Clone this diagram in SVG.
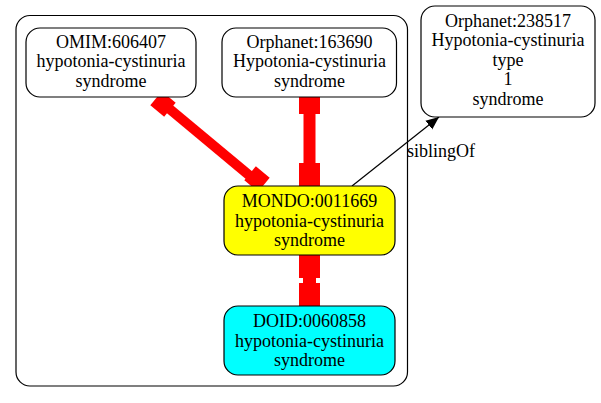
<svg xmlns="http://www.w3.org/2000/svg" width="601" height="403" viewBox="0 0 601 403">
<style>
text{font-size:18px;text-anchor:middle;fill:#000}
.n{stroke:#000;stroke-width:1.2}
.red{stroke:#ff0000;fill:none}
.redbox{fill:#ff0000}
</style>
<defs>
<marker id="arr" markerWidth="14" markerHeight="12" refX="13" refY="6" orient="auto" markerUnits="userSpaceOnUse">
<path d="M0,0.5 L13,6 L0,11.5 z" fill="#000"/>
</marker>
</defs>
<rect x="0" y="0" width="601" height="403" fill="#fff"/>
<g font-family="'Liberation Serif', 'Times New Roman', serif">
<rect id="cluster" x="16" y="15.5" width="391.5" height="370.5" rx="14" fill="none" stroke="#000" stroke-width="1.2"/>
<g id="edges">
<line class="red" x1="160" y1="101" x2="262" y2="186" stroke-width="10"/>
<rect class="redbox" x="-9" y="-9" width="18" height="18" transform="translate(163,104) rotate(39.8)"/>
<rect class="redbox" x="-9" y="-9" width="18" height="18" transform="translate(257,179) rotate(39.8)"/>
<line class="red" x1="309.5" y1="97" x2="309.5" y2="186" stroke-width="12"/>
<rect class="redbox" x="299" y="97" width="21" height="17"/>
<rect class="redbox" x="299" y="163" width="21" height="23"/>
<line class="red" x1="309.5" y1="255" x2="309.5" y2="306" stroke-width="13"/>
<rect class="redbox" x="299" y="255" width="21" height="23"/>
<rect class="redbox" x="299" y="283" width="21" height="23"/>
<line x1="352" y1="186" x2="439" y2="117" stroke="#000" stroke-width="1.2" marker-end="url(#arr)"/>
<text x="441" y="157">siblingOf</text>
</g>
<g id="omim">
<rect class="n" x="26" y="28" width="170" height="69" rx="14" fill="#fff"/>
<text x="111" y="47.5">OMIM:606407</text>
<text x="111" y="67">hypotonia-cystinuria</text>
<text x="111" y="86.5">syndrome</text>
</g>
<g id="orpha163690">
<rect class="n" x="222" y="28" width="174.5" height="69" rx="14" fill="#fff"/>
<text x="309.5" y="47.5">Orphanet:163690</text>
<text x="309.5" y="67">Hypotonia-cystinuria</text>
<text x="309.5" y="86.5">syndrome</text>
</g>
<g id="mondo">
<rect class="n" x="224" y="186" width="171" height="69" rx="14" fill="#ffff00"/>
<text x="309.5" y="207">MONDO:0011669</text>
<text x="309.5" y="226.5">hypotonia-cystinuria</text>
<text x="309.5" y="246">syndrome</text>
</g>
<g id="doid">
<rect class="n" x="224" y="306" width="171" height="69" rx="14" fill="#00ffff"/>
<text x="309.5" y="327">DOID:0060858</text>
<text x="309.5" y="346.5">hypotonia-cystinuria</text>
<text x="309.5" y="366">syndrome</text>
</g>
<g id="orpha238517">
<rect class="n" x="421" y="6" width="174" height="111" rx="14" fill="#fff"/>
<text x="508" y="26.5">Orphanet:238517</text>
<text x="508" y="46">Hypotonia-cystinuria</text>
<text x="508" y="65.5">type</text>
<text x="508" y="85">1</text>
<text x="508" y="104.5">syndrome</text>
</g>
</g>
</svg>
